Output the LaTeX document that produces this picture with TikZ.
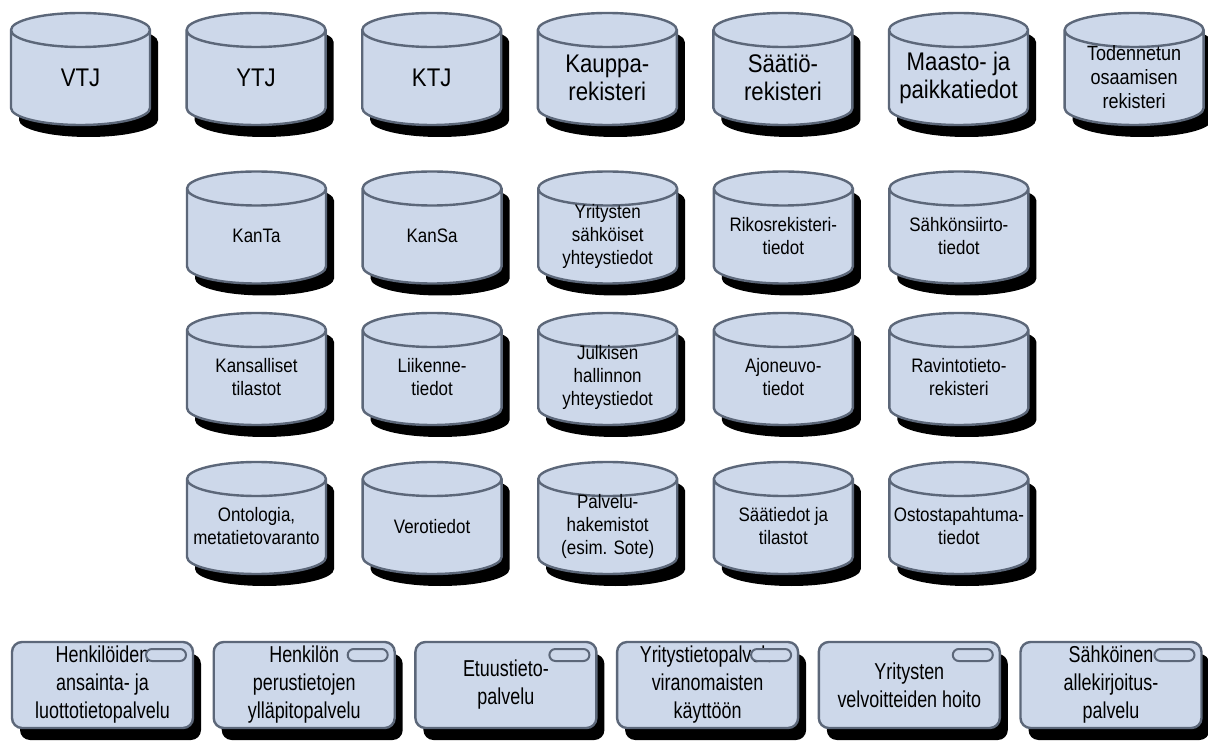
\documentclass[tikz,border=0pt]{standalone}
\usepackage{fontspec}
\setmainfont[FakeStretch=0.87]{Liberation Sans}
\newfontfamily\svcfont[FakeStretch=0.78]{Liberation Sans}
\usetikzlibrary{shadows, positioning}
\definecolor{regfill}{HTML}{CDD8EA}
\definecolor{regline}{HTML}{5C6779}

% height of the elliptic cap (half of the minor axis)
\newcommand\dbcap{17pt}

% database drum: the node box is the body below the lid,
% the lid sits on top of it, the rounded bottom hangs below
\makeatletter
\pgfdeclareshape{dbdrum}{
  \inheritsavedanchors[from=rectangle]
  \inheritanchorborder[from=rectangle]
  \inheritanchor[from=rectangle]{center}
  \inheritanchor[from=rectangle]{north}
  \inheritanchor[from=rectangle]{south}
  \inheritanchor[from=rectangle]{east}
  \inheritanchor[from=rectangle]{west}
  \inheritanchor[from=rectangle]{north east}
  \inheritanchor[from=rectangle]{north west}
  \inheritanchor[from=rectangle]{south east}
  \inheritanchor[from=rectangle]{south west}
  \backgroundpath{
    \southwest \pgf@xa=\pgf@x \pgf@ya=\pgf@y
    \northeast \advance\pgf@xa by\pgf@x \advance\pgf@ya by\pgf@y
    \pgf@xa=.5\pgf@xa \pgf@ya=.5\pgf@ya
    \edef\dbcx{\the\pgf@xa}\edef\dbcy{\the\pgf@ya}
    \pgfmathsetlength\pgf@xb{.5*\pgfshapeminwidth}\edef\dbrx{\the\pgf@xb}
    \pgfmathsetlength\pgf@yb{.5*\pgfshapeminheight}\edef\dbh{\the\pgf@yb}
    % outline
    \pgfpathmoveto{\pgfpoint{\dbcx-\dbrx}{\dbcy+\dbh+\dbcap}}
    \pgfpathlineto{\pgfpoint{\dbcx-\dbrx}{\dbcy-\dbh}}
    \pgfpatharc{180}{360}{\dbrx and \dbcap}
    \pgfpathlineto{\pgfpoint{\dbcx+\dbrx}{\dbcy+\dbh+\dbcap}}
    \pgfpatharc{0}{180}{\dbrx and \dbcap}
    \pgfpathclose
    % front rim of the lid
    \pgfpathmoveto{\pgfpoint{\dbcx-\dbrx}{\dbcy+\dbh+\dbcap}}
    \pgfpatharc{180}{360}{\dbrx and \dbcap}
  }
}
\makeatother

\begin{document}
\begin{tikzpicture}[
  x=1pt, y=1pt,
  node distance=36.6pt,
  % black drop shadow under every shape
  darkshadow/.style={drop shadow={shadow xshift=8pt, shadow yshift=-12pt,
              opacity=1, fill=black}},
  % register = database drum
  reg/.style={dbdrum, draw=regline, fill=regfill, line width=2.4pt,
              minimum width=139pt, minimum height=61pt,
              inner sep=0pt, outer sep=0pt, align=center, darkshadow},
  bigreg/.style={reg, font=\fontsize{25.5}{28}\selectfont},
  smallreg/.style={reg, font=\fontsize{19.5}{23}\selectfont},
  % service box and the small tab in its corner
  svc/.style={rectangle, rounded corners=10pt, draw=regline, fill=regfill,
              line width=2.4pt, minimum width=181pt, minimum height=86pt,
              inner sep=0pt, outer sep=0pt, align=center,
              font=\svcfont\fontsize{23}{28}\selectfont, darkshadow},
  tabpill/.style={rectangle, rounded corners=6pt, draw=regline, fill=regfill,
              line width=2pt, minimum width=40pt, minimum height=12pt,
              inner sep=0pt},
]
\fill[white] (0,0) rectangle (1208,740);
\useasboundingbox (0,0) rectangle (1208,740);

% ── national base registers ────────────────────────────────
\node[bigreg] (vtj) at (80.5,662.5) {VTJ};
\node[bigreg, right=of vtj] (ytj) {YTJ};
\node[bigreg, right=of ytj] (ktj) {KTJ};
\node[bigreg, right=of ktj] (kauppa) {Kauppa-\\rekisteri};
\node[bigreg, right=of kauppa] (saatio) {Säätiö-\\rekisteri};
\node[bigreg, right=of saatio] (maasto) {Maasto- ja\\paikkatiedot};
\node[reg, font=\fontsize{20.7}{24}\selectfont, right=of maasto] (osaaminen)
  {Todennetun\\osaamisen\\rekisteri};

% ── other data sources ─────────────────────────────────────
\node[smallreg] (kanta) at (256.5,504) {KanTa};
\node[smallreg, right=of kanta] (kansa) {KanSa};
\node[smallreg, right=of kansa] (yrityhteys) {Yritysten\\sähköiset\\yhteystiedot};
\node[smallreg, right=of yrityhteys] (rikos) {Rikosrekisteri-\\tiedot};
\node[smallreg, right=of rikos] (sahko) {Sähkönsiirto-\\tiedot};

\node[smallreg] (tilasto) at (256.5,362.5) {Kansalliset\\tilastot};
\node[smallreg, right=of tilasto] (liikenne) {Liikenne-\\tiedot};
\node[smallreg, right=of liikenne] (julkhall) {Julkisen\\hallinnon\\yhteystiedot};
\node[smallreg, right=of julkhall] (ajoneuvo) {Ajoneuvo-\\tiedot};
\node[smallreg, right=of ajoneuvo] (ravinto) {Ravintotieto-\\rekisteri};

\node[smallreg] (ontologia) at (256.5,213.5) {Ontologia,\\metatietovaranto};
\node[smallreg, right=of ontologia] (vero) {Verotiedot};
\node[smallreg, right=of vero] (palveluhak) {Palvelu-\\hakemistot\\(esim. Sote)};
\node[smallreg, right=of palveluhak] (saatiedot) {Säätiedot ja\\tilastot};
\node[smallreg, right=of saatiedot] (ostos) {Ostostapahtuma-\\tiedot};

% ── services ───────────────────────────────────────────────
\begin{scope}[node distance=20.7pt]
\node[svc] (ansainta) at (102.5,55) {Henkilöiden\\ansainta- ja\\luottotietopalvelu};
\node[svc, right=of ansainta] (perustieto) {Henkilön\\perustietojen\\ylläpitopalvelu};
\node[svc, right=of perustieto] (etuus) {Etuustieto-\\palvelu};
\node[svc, right=of etuus] (yritysviran) {Yritystietopalvelu\\viranomaisten\\käyttöön};
\node[svc, right=of yritysviran] (velvoite) {Yritysten\\velvoitteiden hoito};
\node[svc, right=of velvoite] (allekirjoitus) {Sähköinen\\allekirjoitus-\\palvelu};
\end{scope}

\foreach \b in {ansainta, perustieto, etuus, yritysviran, velvoite, allekirjoitus} {
  \node[tabpill, anchor=north east] (\b-tab) at ([shift={(-6,-6)}]\b.north east) {};
}

\end{tikzpicture}
\end{document}
